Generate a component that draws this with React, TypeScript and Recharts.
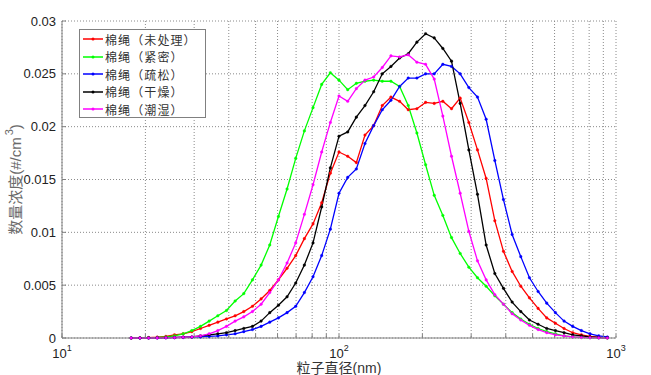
import { LineChart, Line, XAxis, YAxis, CartesianGrid } from "recharts";

// particle diameter (nm), log spaced
const DIAMETER = [
  17.78, 19.11, 20.54, 22.07, 23.71, 25.48, 27.38, 29.43, 31.62, 33.98, 36.52, 39.24, 42.17, 45.32,
  48.7, 52.33, 56.23, 60.43, 64.94, 69.78, 74.99, 80.58, 86.6, 93.06, 100.0, 107.5, 115.5, 124.1,
  133.4, 143.3, 154.0, 165.5, 177.8, 191.1, 205.4, 220.7, 237.1, 254.8, 273.8, 294.3, 316.2, 339.8,
  365.2, 392.4, 421.7, 453.2, 487.0, 523.3, 562.3, 604.3, 649.4, 697.8, 749.9, 805.8, 866.0, 930.6,
];

// 棉绳（未处理）
const RAW = [
  0, 0.00002, 0.00004, 0.00008, 0.00015, 0.0003, 0.0004, 0.0006, 0.0009, 0.0012, 0.0015, 0.0018,
  0.0021, 0.0025, 0.003, 0.0037, 0.0045, 0.0055, 0.0066, 0.0078, 0.0094, 0.0108, 0.0128, 0.0156,
  0.0176, 0.0172, 0.0166, 0.0192, 0.0201, 0.022, 0.0228, 0.0224, 0.0216, 0.0217, 0.0223, 0.0222,
  0.0224, 0.0217, 0.0227, 0.0204, 0.0178, 0.0151, 0.0111, 0.0082, 0.0063, 0.0049, 0.0038, 0.0028,
  0.0019, 0.0014, 0.0009, 0.0005, 0.0003, 0.00015, 0.00008, 0.00003,
];

// 棉绳（紧密）
const DENSE = [
  0, 0.00001, 0.00002, 0.00005, 0.0001, 0.0002, 0.0004, 0.0007, 0.0011, 0.0016, 0.0021, 0.0026,
  0.0035, 0.0042, 0.0055, 0.0069, 0.0088, 0.0115, 0.0141, 0.017, 0.0196, 0.0218, 0.024, 0.0251,
  0.0244, 0.0235, 0.0241, 0.0243, 0.0244, 0.0243, 0.0243, 0.0238, 0.022, 0.0194, 0.0164, 0.0135,
  0.0116, 0.0095, 0.008, 0.0067, 0.0057, 0.0049, 0.004, 0.0032, 0.0024, 0.0018, 0.0013, 0.0009,
  0.0006, 0.0004, 0.0002, 0.0001, 0.00005, 0.00002, 0.00001, 0,
];

// 棉绳（疏松）
const LOOSE = [
  0, 0, 0, 0.00001, 0.00002, 0.00003, 0.00005, 0.00008, 0.0001, 0.00015, 0.0002, 0.0003, 0.0004,
  0.0006, 0.0008, 0.0011, 0.0015, 0.0019, 0.0024, 0.003, 0.0043, 0.0058, 0.0078, 0.0103, 0.0137,
  0.0152, 0.016, 0.0184, 0.0201, 0.0216, 0.0225, 0.0238, 0.0246, 0.0246, 0.025, 0.025, 0.0259,
  0.0257, 0.025, 0.0237, 0.0228, 0.0207, 0.0168, 0.0131, 0.0098, 0.0077, 0.0057, 0.0044, 0.0033,
  0.0024, 0.0016, 0.0011, 0.0007, 0.0004, 0.0002, 0.0001,
];

// 棉绳（干燥）
const DRY = [
  0, 0, 0.00001, 0.00002, 0.00003, 0.00005, 0.00008, 0.0001, 0.0002, 0.0003, 0.0004, 0.0005,
  0.0007, 0.0009, 0.0011, 0.0016, 0.0024, 0.0031, 0.0039, 0.0052, 0.0069, 0.009, 0.0124, 0.0161,
  0.0191, 0.0195, 0.0209, 0.022, 0.0233, 0.025, 0.0257, 0.0265, 0.0269, 0.028, 0.0288, 0.0284,
  0.0274, 0.0262, 0.0222, 0.0178, 0.0136, 0.0088, 0.0061, 0.0047, 0.0034, 0.0025, 0.0017, 0.0013,
  0.0009, 0.0007, 0.0005, 0.0003, 0.0002, 0.0001, 0.00005, 0.00002,
];

// 棉绳（潮湿）
const WET = [
  0, 0, 0, 0.00001, 0.00002, 0.00004, 0.00007, 0.0001, 0.0002, 0.0004, 0.0007, 0.0011, 0.0016,
  0.002, 0.0025, 0.0032, 0.0043, 0.0055, 0.0071, 0.009, 0.0117, 0.0145, 0.0176, 0.0204, 0.0229,
  0.0224, 0.0236, 0.0244, 0.0247, 0.0256, 0.0267, 0.0266, 0.0268, 0.0261, 0.0259, 0.0245, 0.021,
  0.0172, 0.0137, 0.0101, 0.0073, 0.0055, 0.0041, 0.0032, 0.0023, 0.0017, 0.0012, 0.0008, 0.0005,
  0.0003, 0.0002, 0.0001, 0.00005, 0.00002, 0.00001, 0,
];

const SERIES_KEYS = ["raw", "dense", "loose", "dry", "wet"];
const SERIES_NAMES = ["棉绳（未处理）", "棉绳（紧密）", "棉绳（疏松）", "棉绳（干燥）", "棉绳（潮湿）"];
const SERIES_COLORS = ["#ff0000", "#00ff00", "#0000ff", "#000000", "#ff00ff"];

const X_TICKS = [10, 20, 30, 40, 50, 60, 70, 80, 90, 100, 200, 300, 400, 500, 600, 700, 800, 900, 1000];
const X_DECADES: Record<number, string> = { 10: "1", 100: "2", 1000: "3" };
const Y_TICKS = [0, 0.005, 0.01, 0.015, 0.02, 0.025, 0.03];

const FONT = "'Liberation Sans', Arial, 'Noto Sans CJK SC', sans-serif";
const AXIS = "#808080";

const rows = DIAMETER.map((d, i) => ({
  d,
  raw: RAW[i],
  dense: DENSE[i],
  loose: LOOSE[i],
  dry: DRY[i],
  wet: WET[i],
}));

function XTick(props: any) {
  const { x, y, payload } = props;
  const exp = X_DECADES[payload.value];
  if (!exp) return <g />;
  return (
    <text x={x} y={y + 20} textAnchor="middle" fontSize={13} fill="#222">
      <tspan>10</tspan>
      <tspan dy={-7} fontSize={9}>
        {exp}
      </tspan>
    </text>
  );
}

function YTitle(props: any) {
  const vb = props.viewBox;
  const cx = vb.x + 15;
  const cy = vb.y + vb.height / 2;
  return (
    <text
      x={cx}
      y={cy}
      textAnchor="middle"
      dominantBaseline="central"
      transform={`rotate(-90, ${cx}, ${cy})`}
      fontSize={15}
      fill="#6a6a6a"
    >
      <tspan>数量浓度(#/cm</tspan>
      <tspan dx={2} dy={-6} fontSize={11}>
        3
      </tspan>
      <tspan dy={6}>)</tspan>
    </text>
  );
}

function XTitle(props: any) {
  const vb = props.viewBox;
  return (
    <text x={vb.x + vb.width / 2} y={vb.y + 35} textAnchor="middle" fontSize={14} fill="#333">
      粒子直径(nm)
    </text>
  );
}

function LegendBox() {
  return (
    <div
      style={{
        position: "absolute",
        left: 79,
        top: 29,
        width: 127,
        height: 89,
        boxSizing: "border-box",
        border: `1px solid ${AXIS}`,
        background: "#fff",
        paddingTop: 0.5,
        fontFamily: "'Noto Sans CJK SC', sans-serif",
      }}
    >
      {SERIES_NAMES.map((name, i) => (
        <div
          key={name}
          style={{ display: "flex", alignItems: "center", height: 17.5, fontSize: 12, color: "#333" }}
        >
          <svg width={20} height={8} style={{ marginLeft: 3, marginRight: 2, flex: "none" }}>
            <line x1={0} y1={4} x2={20} y2={4} stroke={SERIES_COLORS[i]} strokeWidth={1.5} />
            <circle cx={10} cy={4} r={1.5} fill={SERIES_COLORS[i]} />
          </svg>
          <span style={{ whiteSpace: "nowrap", lineHeight: "17px", letterSpacing: 1.1 }}>{name}</span>
        </div>
      ))}
    </div>
  );
}

export default function App() {
  return (
    <div
      style={{
        position: "absolute",
        left: 0,
        top: 0,
        width: 651,
        height: 375,
        background: "#fff",
        fontFamily: FONT,
      }}
    >
      <LineChart width={651} height={375} data={rows} margin={{ top: 21, right: 35, bottom: 0, left: 0 }}>
        <CartesianGrid stroke="#8a8a8a" strokeDasharray="1 2" />
        <XAxis
          dataKey="d"
          type="number"
          scale="log"
          domain={[10, 1000]}
          ticks={X_TICKS}
          interval={0}
          allowDataOverflow
          height={37}
          stroke={AXIS}
          tickSize={-4}
          tickMargin={4}
          tick={<XTick />}
          label={{ content: (p: any) => <XTitle {...p} /> }}
        />
        <XAxis
          xAxisId="top"
          orientation="top"
          type="number"
          scale="log"
          domain={[10, 1000]}
          ticks={X_TICKS}
          interval={0}
          allowDataOverflow
          height={0}
          stroke={AXIS}
          tickSize={-4}
          tick={false}
        />
        <YAxis
          type="number"
          domain={[0, 0.03]}
          ticks={Y_TICKS}
          interval={0}
          width={62}
          stroke={AXIS}
          tickSize={-4}
          tickMargin={10}
          tick={{ fill: "#222", fontSize: 13 }}
          label={{ content: (p: any) => <YTitle {...p} /> }}
        />
        <YAxis
          yAxisId="right"
          orientation="right"
          type="number"
          domain={[0, 0.03]}
          ticks={Y_TICKS}
          interval={0}
          width={0}
          stroke={AXIS}
          tickSize={-4}
          tick={false}
        />
        {SERIES_KEYS.map((key, i) => (
          <Line
            key={key}
            dataKey={key}
            name={SERIES_NAMES[i]}
            type="linear"
            stroke={SERIES_COLORS[i]}
            strokeWidth={1.3}
            dot={{ r: 1.3, fill: SERIES_COLORS[i], stroke: SERIES_COLORS[i], strokeWidth: 0.4 }}
            activeDot={false}
            isAnimationActive={false}
          />
        ))}
      </LineChart>
      <LegendBox />
    </div>
  );
}
